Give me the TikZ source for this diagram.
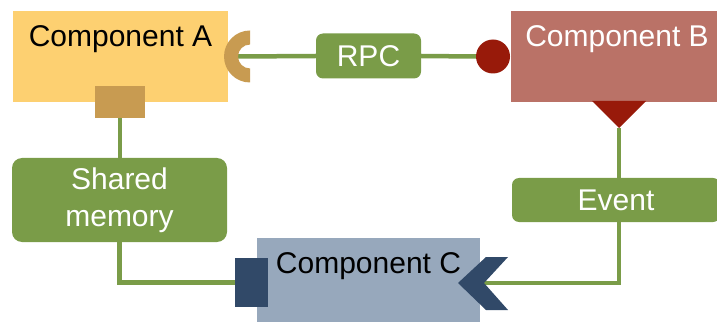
\documentclass[tikz,border=0pt]{standalone}
\usepackage{fontspec}
\setmainfont{Liberation Sans}
\definecolor{compA}{HTML}{FDD071}
\definecolor{compB}{HTML}{BA7267}
\definecolor{compC}{HTML}{97A8BC}
\definecolor{portA}{HTML}{C89B51}
\definecolor{portB}{HTML}{981A0A}
\definecolor{portC}{HTML}{314968}
\definecolor{linkgreen}{HTML}{7A9C48}
\begin{document}
\begin{tikzpicture}[x=1pt,y=1pt,
	comp/.style={rectangle,inner sep=0pt,font=\fontsize{30}{34}\selectfont},
	link/.style={rectangle,rounded corners=7pt,fill=linkgreen,text=white,
		inner sep=0pt,font=\fontsize{30}{37}\selectfont},
	port/.style={rectangle,inner sep=0pt},
	wire/.style={draw=linkgreen,line width=4.5pt}]
\useasboundingbox (0,0) rectangle (717,-323);

% components
\node (A) at (120.5,-56.5) [comp,fill=compA,minimum width=215pt,
	text height=36pt,text depth=55pt] {Component A};
\node (B) at (617,-56.5) [comp,fill=compB,text=white,minimum width=212pt,
	text height=36pt,text depth=55pt] {Component B};
\node (C) at (368.5,-280) [comp,fill=compC,minimum width=223pt,
	text height=35pt,text depth=49pt] {Component C};

% connectors
\node (rpc) at (368.5,-56) [link,minimum width=105pt,minimum height=45pt] {RPC};
\node (event) at (616,-200) [link,minimum width=208pt,minimum height=44pt] {Event};
\node (shm) at (119.5,-200) [link,rounded corners=10pt,align=center,
	minimum width=215pt,minimum height=84pt] {Shared\\memory};

% ports
\node (Abot) at (120,-102) [port,fill=portA,minimum width=50pt,minimum height=32pt] {};
\node (Cleft) at (251.5,-282.5) [port,fill=portC,minimum width=33pt,minimum height=49pt] {};
\node (Bdot) at (493,-56.5) [circle,fill=portB,inner sep=0pt,minimum size=34pt] {};
\coordinate (Aright) at (238,-56.5);
\coordinate (Btip) at (619,-128);
\coordinate (Ctip) at (484,-283);

% wires
\path[wire] (Aright) -- (rpc.west);
\path[wire] (rpc.east) -- (Bdot.west);
\path[wire] (Abot.south) -- (shm.north -| Abot.south);
\path[wire] (shm.south) |- (Cleft.west);
\path[wire] (Btip) -- (Btip |- event.north);
\path[wire] (event.south -| Btip) |- (Ctip);

% port shapes
\fill[portA] (250,-30.5) arc (90:270:26) -- (250,-68.5) arc (270:90:12) -- cycle;
\fill[portB] (592,-101) -- (646,-101) -- (Btip) -- cycle;
\fill[portC] (486,-257) -- (508,-257) -- (Ctip) -- (508,-310) -- (486,-310)
	-- (458,-283) -- cycle;
\end{tikzpicture}
\end{document}
